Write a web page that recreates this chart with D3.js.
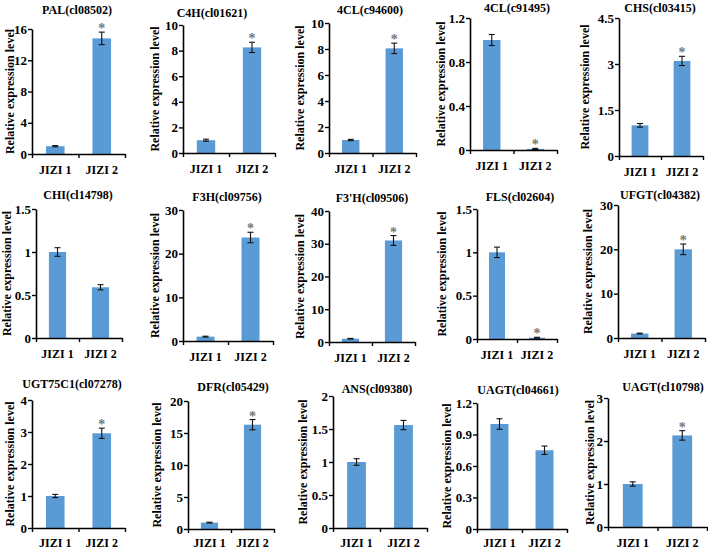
<!DOCTYPE html>
<html lang="en">
<head>
    <meta charset="UTF-8">
    <title>Relative expression</title>
    <script src="https://cdn.jsdelivr.net/npm/d3@7"></script>
    <style>
        body { margin: 0; background: #fff; }
    </style>
</head>
<body>
<script>
    // data
    const groups = ["JIZI 1", "JIZI 2"];
    const genes = ["PAL(cl08502)", "C4H(cl01621)", "4CL(c94600)", "4CL(c91495)", "CHS(cl03415)",
        "CHI(cl14798)", "F3H(cl09756)", "F3'H(cl09506)", "FLS(cl02604)", "UFGT(cl04382)",
        "UGT75C1(cl07278)", "DFR(cl05429)", "ANS(cl09380)", "UAGT(cl04661)", "UAGT(cl10798)"];
    const jizi1 = [1.0, 1.0, 1.0, 1.0, 1.0, 1.0, 1.0, 1.0, 1.0, 1.0, 1.0, 1.0, 1.0, 1.0, 1.0];
    const jizi2 = [14.8, 8.25, 8.05, 0.01, 3.1, 0.59, 23.7, 31.0, 0.015, 20.0, 2.96, 16.3, 1.56, 0.75, 2.13];
    const err1 = [0.08, 0.08, 0.05, 0.05, 0.06, 0.05, 0.1, 0.1, 0.06, 0.1, 0.05, 0.06, 0.05, 0.05, 0.05];
    const err2 = [0.8, 0.4, 0.4, 0.005, 0.15, 0.03, 1.2, 1.5, 0.005, 1.2, 0.16, 0.8, 0.07, 0.04, 0.11];
    const yTicks = [
        [0, 4, 8, 12, 16], [0, 2, 4, 6, 8, 10], [0, 2, 4, 6, 8, 10], [0, 0.4, 0.8, 1.2], [0, 1.5, 3, 4.5],
        [0, 0.5, 1, 1.5], [0, 10, 20, 30], [0, 10, 20, 30, 40], [0, 0.5, 1, 1.5], [0, 10, 20, 30],
        [0, 1, 2, 3, 4], [0, 5, 10, 15, 20], [0, 0.5, 1, 1.5, 2], [0, 0.3, 0.6, 0.9, 1.2], [0, 1, 2, 3]
    ];
    const star = [1, 1, 1, 1, 1, 0, 1, 1, 1, 1, 1, 1, 0, 0, 1];

    // panel placement: axis x, top y, zero y, axis end x, title x, title y, y-label offset
    const layout = [
        [32, 29, 154, 125, 77, 14, 22], [183, 25, 153, 275, 212, 17, 28], [329, 23, 153, 416, 370, 14, 29],
        [470, 18, 150, 557, 517, 12, 29], [619, 18, 156, 703, 660, 12, 34],
        [36, 209, 338, 122, 78, 199, 29], [183, 210, 341, 273, 227, 201, 28], [329, 211, 342, 415, 372, 202, 29],
        [477, 209, 339, 557, 520, 201, 35], [618, 205, 338, 705, 660, 199, 30],
        [32, 400, 528, 125, 72, 388, 22], [188, 401, 529, 274, 233, 391, 31], [333, 396, 528, 427, 377, 393, 30],
        [477, 403, 529, 567, 518, 394, 30], [608, 398, 527, 707, 663, 391, 18]
    ];

    const font = "'Liberation Serif', 'Times New Roman', serif";
    const width = 708, height = 551;
    const svg = d3.select("body").append("svg")
        .attr("width", width)
        .attr("height", height)
        .attr("viewBox", [0, 0, width, height])
        .attr("font-family", font)
        .attr("font-weight", "bold");

    genes.forEach((gene, i) => {
        const [ax, top, zero, end, tx, ty, lo] = layout[i];
        const ticks = yTicks[i];
        const g = svg.append("g");

        const y = d3.scaleLinear().domain([0, ticks[ticks.length - 1]]).range([zero, top]);
        const x = d3.scaleBand().domain(groups).range([ax, end]).paddingInner(0.6).paddingOuter(0.3);
        const xEdge = d3.scaleLinear().domain([0, 2]).range([ax, end]);

        const vals = [jizi1[i], jizi2[i]];
        const errs = [err1[i], err2[i]];

        // bars
        g.selectAll("rect")
            .data(groups)
            .join("rect")
            .attr("x", d => x(d))
            .attr("width", x.bandwidth())
            .attr("y", (d, j) => y(vals[j]))
            .attr("height", (d, j) => Math.max(0.8, zero - y(vals[j])))
            .attr("fill", "#5b9bd5");

        // error bars
        const eb = g.selectAll("g.err")
            .data(groups)
            .join("g")
            .attr("class", "err")
            .attr("stroke", "#111")
            .attr("stroke-width", 1.1);
        const cx = d => x(d) + x.bandwidth() / 2;
        eb.append("line")
            .attr("x1", cx).attr("x2", cx)
            .attr("y1", (d, j) => y(vals[j] - errs[j]))
            .attr("y2", (d, j) => y(vals[j] + errs[j]));
        eb.append("line")
            .attr("x1", d => cx(d) - 3).attr("x2", d => cx(d) + 3)
            .attr("y1", (d, j) => y(vals[j] + errs[j]))
            .attr("y2", (d, j) => y(vals[j] + errs[j]));
        eb.append("line")
            .attr("x1", d => cx(d) - 3).attr("x2", d => cx(d) + 3)
            .attr("y1", (d, j) => y(vals[j] - errs[j]))
            .attr("y2", (d, j) => y(vals[j] - errs[j]));

        // significance mark
        if (star[i]) {
            g.append("text")
                .attr("x", cx(groups[1]))
                .attr("y", y(vals[1] + errs[1]) + 1)
                .attr("text-anchor", "middle")
                .attr("fill", "#777")
                .attr("font-size", 14)
                .text("*");
        }

        // y axis
        const yAxis = g.append("g")
            .attr("transform", `translate(${ax},0)`)
            .call(d3.axisLeft(y).tickValues(ticks).tickFormat(d3.format("~g")).tickSize(4).tickSizeOuter(0));
        yAxis.select(".domain").attr("stroke", "#000").attr("stroke-width", 1.6);
        yAxis.selectAll(".tick line").attr("stroke", "#000").attr("stroke-width", 1.4);
        yAxis.selectAll(".tick text")
            .attr("x", -5)
            .attr("font-size", 13)
            .attr("font-family", font)
            .attr("font-weight", "bold")
            .attr("fill", "#000");

        // x axis
        const xAxis = g.append("g")
            .attr("transform", `translate(0,${zero})`)
            .call(d3.axisBottom(xEdge).tickValues([0, 1, 2]).tickFormat("").tickSize(4).tickSizeOuter(0));
        xAxis.select(".domain").attr("stroke", "#000").attr("stroke-width", 1.6);
        xAxis.selectAll(".tick line").attr("stroke", "#000").attr("stroke-width", 1.4);

        g.selectAll("text.xl")
            .data(groups)
            .join("text")
            .attr("class", "xl")
            .attr("x", cx)
            .attr("y", Math.min(zero + 20, 547))
            .attr("text-anchor", "middle")
            .attr("font-size", 12)
            .text(d => d);

        // titles
        g.append("text")
            .attr("x", tx)
            .attr("y", ty)
            .attr("text-anchor", "middle")
            .attr("font-size", 12)
            .text(gene);

        g.append("text")
            .attr("transform", `translate(${ax - lo},${(top + zero) / 2}) rotate(-90)`)
            .attr("text-anchor", "middle")
            .attr("dy", "0.35em")
            .attr("font-size", 12)
            .text("Relative expression level");
    });
</script>
</body>
</html>
